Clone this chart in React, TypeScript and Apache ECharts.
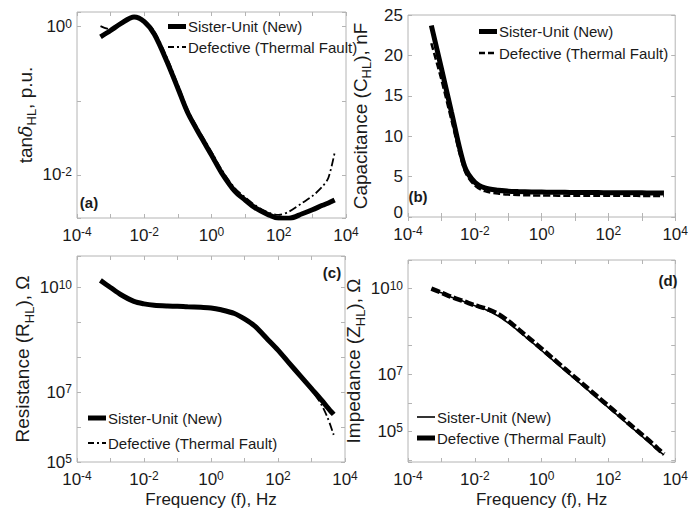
import React, { useEffect, useRef } from 'react';
import * as echarts from 'echarts';

// Frequency sweep points (Hz), shared by all four panels
const FREQ = [5e-4, 1e-3, 2e-3, 5e-3, 1e-2, 2e-2, 5e-2, 0.1, 0.2, 0.5, 1, 2, 5, 10, 20, 50, 100, 200, 500, 1000, 2000, 3000, 4600];

// (a) dissipation factor tanδ, p.u.
const TAN_NEW = [0.73, 0.89, 1.1, 1.35, 1.17, 0.79, 0.32, 0.148, 0.068, 0.032, 0.0186, 0.0107, 0.006, 0.0046, 0.0036, 0.0029, 0.0026, 0.0026, 0.003, 0.0034, 0.0039, 0.0042, 0.0046];
const TAN_FAULT = [1.02, 0.92, 1.1, 1.36, 1.22, 0.86, 0.36, 0.165, 0.075, 0.035, 0.0205, 0.0118, 0.0066, 0.005, 0.0039, 0.0031, 0.0029, 0.0032, 0.0042, 0.0052, 0.007, 0.0092, 0.02];

// (b) capacitance, nF
const CAP_NEW = [23.7, 18.4, 13.0, 6.2, 4.3, 3.6, 3.3, 3.2, 3.15, 3.1, 3.08, 3.06, 3.05, 3.04, 3.03, 3.02, 3.01, 3.0, 3.0, 2.99, 2.98, 2.98, 2.97];
const CAP_FAULT = [21.5, 17.0, 12.0, 5.7, 3.9, 3.2, 2.9, 2.78, 2.72, 2.68, 2.66, 2.65, 2.64, 2.64, 2.63, 2.63, 2.62, 2.62, 2.62, 2.61, 2.61, 2.6, 2.6];

// (c) resistance, Ω
const RES_NEW = [1.6e10, 1.0e10, 6.3e9, 4.0e9, 3.4e9, 3.1e9, 2.95e9, 2.9e9, 2.8e9, 2.7e9, 2.6e9, 2.3e9, 1.8e9, 1.26e9, 7.9e8, 3.2e8, 1.6e8, 7.4e7, 2.7e7, 1.26e7, 5.9e6, 3.7e6, 2.3e6];
const RES_FAULT = [1.5e10, 1.0e10, 6.2e9, 4.0e9, 3.4e9, 3.1e9, 2.95e9, 2.9e9, 2.8e9, 2.7e9, 2.6e9, 2.3e9, 1.8e9, 1.26e9, 7.9e8, 3.2e8, 1.6e8, 7.4e7, 2.7e7, 1.2e7, 4.3e6, 1.9e6, 6.0e5];

// (d) impedance magnitude, Ω
const IMP_NEW = [9.5e9, 7.1e9, 5.0e9, 3.4e9, 2.5e9, 1.9e9, 1.1e9, 6.3e8, 3.3e8, 1.35e8, 6.8e7, 3.4e7, 1.35e7, 6.8e6, 3.4e6, 1.35e6, 6.8e5, 3.4e5, 1.35e5, 6.8e4, 3.4e4, 2.2e4, 1.5e4];
const IMP_FAULT = [1.0e10, 7.2e9, 5.1e9, 3.5e9, 2.6e9, 2.05e9, 1.3e9, 7.4e8, 3.8e8, 1.55e8, 7.8e7, 3.9e7, 1.55e7, 7.8e6, 3.9e6, 1.55e6, 7.8e5, 3.9e5, 1.55e5, 7.8e4, 3.9e4, 2.5e4, 1.6e4];

// Labelled decades on each axis
const X_EXP = [-4, -2, 0, 2, 4];
const TAN_EXP = [-2, 0];
const RES_EXP = [5, 7, 10];
const IMP_EXP = [5, 7, 10];

const NAME_NEW = 'Sister-Unit (New)';
const NAME_FAULT = 'Defective (Thermal Fault)';
const PANEL_TAGS = ['(a)', '(b)', '(c)', '(d)'];

const FONT = '"Liberation Sans", Arial, Helvetica, sans-serif';
const INK = '#1a1a1a';
const FRAME = '#b4b4b4';
const DASH_DOT = [8, 3, 2, 3];

const pairs = (ys: number[]) => FREQ.map((f, i) => [f, ys[i]]);

const powFormatter = (allowed: number[]) => (v: number) => {
  const l = Math.log10(v);
  const e = Math.round(l);
  if (Math.abs(l - e) > 1e-6 || !allowed.includes(e)) return '';
  return `{b|10}{s|${e}}`;
};

const tickRich = {
  b: { fontSize: 17, lineHeight: 18, fontFamily: FONT, color: INK },
  s: { fontSize: 12, lineHeight: 10, verticalAlign: 'top', fontFamily: FONT, color: INK },
};

// linear labels; the zero sits a little higher so it clears the frequency labels below
const linRich = {
  v: { fontSize: 17, lineHeight: 14, fontFamily: FONT, color: INK },
  z: { fontSize: 17, lineHeight: 14, fontFamily: FONT, color: INK, padding: [0, 0, 10, 0] },
};

const yNameStyle = {
  fontSize: 19,
  lineHeight: 26,
  fontFamily: FONT,
  color: INK,
  rich: {
    i: { fontSize: 19, lineHeight: 26, fontStyle: 'italic', fontFamily: '"DejaVu Serif", serif', color: INK },
    sub: { fontSize: 13, lineHeight: 13, verticalAlign: 'bottom', fontFamily: FONT, color: INK },
  },
};

const tick = { show: true, inside: true, length: 4, lineStyle: { color: FRAME } };

type Box = { left: number; top: number; width: number; height: number };
const BOXES: Box[] = [
  { left: 77, top: 12, width: 269, height: 206 },
  { left: 408, top: 15, width: 271, height: 202 },
  { left: 77, top: 256, width: 268, height: 206 },
  { left: 408, top: 260, width: 273, height: 202 },
];

function xAxes(gridIndex: number, withName: boolean) {
  const base = {
    type: 'log',
    logBase: 10,
    gridIndex,
    min: 1e-4,
    max: 1e4,
    axisLine: { show: false },
    axisTick: tick,
    splitLine: { show: false },
  };
  return [
    {
      ...base,
      position: 'bottom',
      axisLabel: { formatter: powFormatter(X_EXP), rich: tickRich, margin: 8, showMinLabel: true, showMaxLabel: true },
      name: withName ? 'Frequency (f), Hz' : '',
      nameLocation: 'middle',
      nameGap: 29,
      nameTextStyle: { fontSize: 17, fontFamily: FONT, color: INK },
    },
    { ...base, position: 'top', axisLabel: { show: false } },
  ];
}

function yAxes(gridIndex: number, spec: any, name: string, nameGap: number) {
  const base = {
    gridIndex,
    axisLine: { show: false },
    axisTick: tick,
    splitLine: { show: false },
    ...spec,
  };
  return [
    {
      ...base,
      position: 'left',
      axisLabel: spec.type === 'log'
        ? { formatter: powFormatter(spec.exps), rich: tickRich, margin: 5 }
        : { formatter: (v: number) => (v === 0 ? `{z|${v}}` : `{v|${v}}`), rich: linRich, margin: 5 },
      name,
      nameLocation: 'middle',
      nameGap,
      nameTextStyle: yNameStyle,
    },
    { ...base, position: 'right', axisLabel: { show: false } },
  ];
}

function lineSeries(panel: number, name: string, ys: number[], width: number, type: any, z: number) {
  return {
    type: 'line',
    name,
    xAxisIndex: panel * 2,
    yAxisIndex: panel * 2,
    data: pairs(ys),
    symbol: 'none',
    smooth: 0.3,
    clip: true,
    z,
    lineStyle: { color: '#000', width, type },
  };
}

function legendRows(x: number, y1: number, y2: number, first: any, second: any) {
  const row = (y: number, text: string, ls: any) => [
    { type: 'line', shape: { x1: x, y1: y, x2: x + 18, y2: y }, style: { stroke: '#000', lineWidth: ls.width, lineDash: ls.dash || null } },
    { type: 'text', x: x + 20, y, style: { text, fontSize: 15, fontFamily: FONT, fill: INK, verticalAlign: 'middle' } },
  ];
  return [...row(y1, NAME_NEW, first), ...row(y2, NAME_FAULT, second)];
}

function panelTag(i: number, x: number, y: number) {
  return { type: 'text', x, y, style: { text: PANEL_TAGS[i], fontSize: 15, fontWeight: 'bold', fontFamily: FONT, fill: INK, align: 'center', verticalAlign: 'middle' } };
}

export default function App() {
  const ref = useRef<HTMLDivElement>(null);

  useEffect(() => {
    if (!ref.current) return;
    const chart = echarts.init(ref.current, null, { renderer: 'svg' });

    const option = {
      animation: false,
      backgroundColor: '#fff',
      grid: BOXES.map((b) => ({ ...b, show: true, borderColor: FRAME, borderWidth: 1, backgroundColor: 'transparent' })),
      xAxis: [...xAxes(0, false), ...xAxes(1, false), ...xAxes(2, true), ...xAxes(3, true)],
      yAxis: [
        ...yAxes(0, { type: 'log', logBase: 10, min: 0.00263, max: 1.58, exps: TAN_EXP }, 'tan{i|δ}{sub|HL}, p.u.', 39),
        ...yAxes(1, { type: 'value', min: 0, max: 25, interval: 5 }, 'Capacitance (C{sub|HL}), nF', 35),
        ...yAxes(2, { type: 'log', logBase: 10, min: 1e5, max: 8e10, exps: RES_EXP }, 'Resistance (R{sub|HL}), Ω', 39),
        ...yAxes(3, { type: 'log', logBase: 10, min: 8.5e3, max: 1e11, exps: IMP_EXP }, 'Impedance (Z{sub|HL}), Ω', 35),
      ],
      series: [
        lineSeries(0, NAME_NEW, TAN_NEW, 5, 'solid', 2),
        lineSeries(0, NAME_FAULT, TAN_FAULT, 1.8, DASH_DOT, 3),
        lineSeries(1, NAME_NEW, CAP_NEW, 5, 'solid', 2),
        lineSeries(1, NAME_FAULT, CAP_FAULT, 2.5, [7, 3], 3),
        lineSeries(2, NAME_NEW, RES_NEW, 5, 'solid', 2),
        lineSeries(2, NAME_FAULT, RES_FAULT, 1.8, DASH_DOT, 3),
        lineSeries(3, NAME_NEW, IMP_NEW, 1.6, 'solid', 2),
        lineSeries(3, NAME_FAULT, IMP_FAULT, 4.5, [9, 3], 3),
      ],
      graphic: [
        ...legendRows(168, 26.5, 47, { width: 5 }, { width: 1.8, dash: [6, 3, 2, 3] }),
        ...legendRows(479, 31.5, 53, { width: 5 }, { width: 2.5, dash: [6, 3] }),
        ...legendRows(88, 418, 443, { width: 5 }, { width: 1.8, dash: [6, 3, 2, 3] }),
        ...legendRows(417, 417, 438, { width: 1.6 }, { width: 5 }),
        panelTag(0, 89, 202),
        panelTag(1, 418, 196),
        panelTag(2, 332, 272),
        panelTag(3, 668, 280),
      ],
    };

    chart.setOption(option as any);
    return () => chart.dispose();
  }, []);

  return (
    <div
      ref={ref}
      style={{ position: 'fixed', left: 0, top: 0, width: 691, height: 515, background: '#fff' }}
    />
  );
}
